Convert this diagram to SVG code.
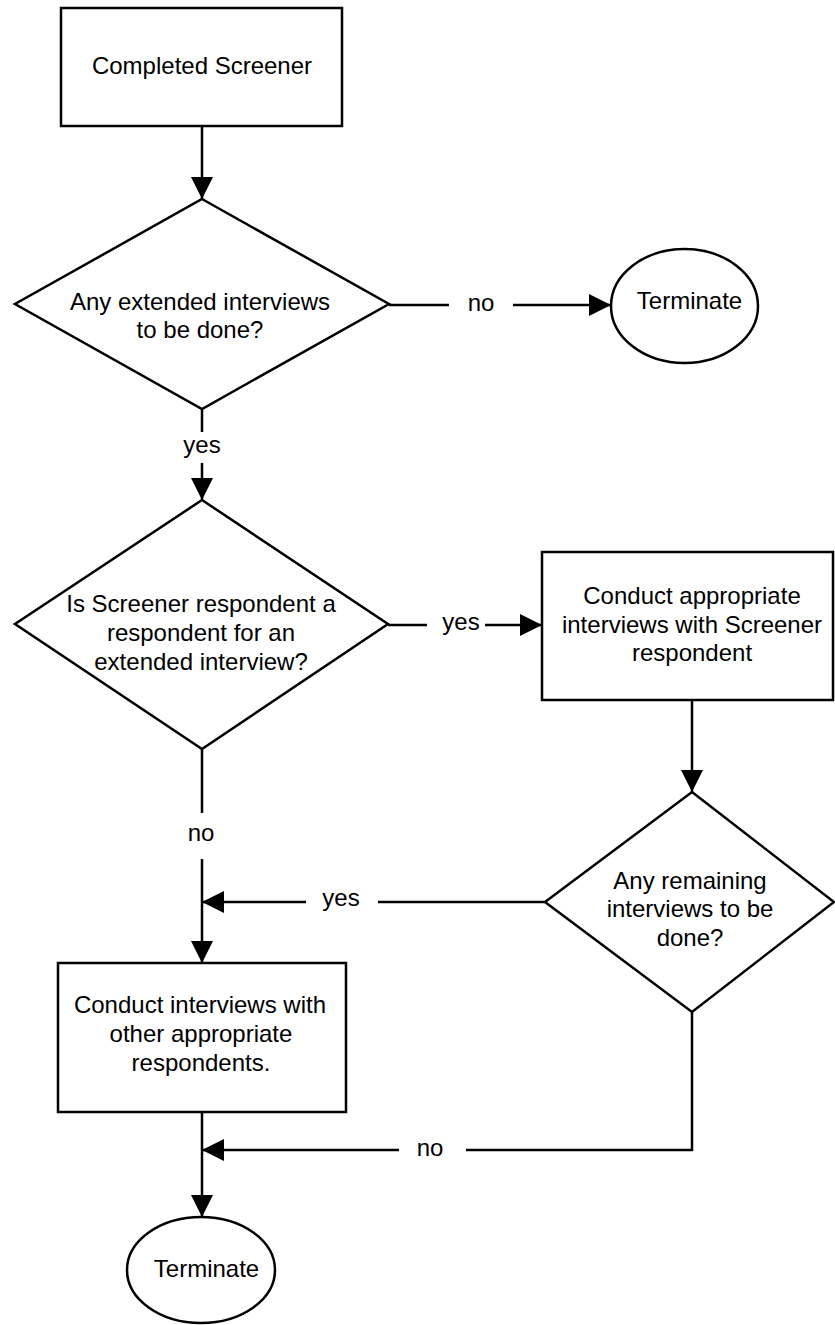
<svg xmlns="http://www.w3.org/2000/svg" width="835" height="1325" viewBox="0 0 835 1325">
<defs>
<marker id="arr" markerUnits="userSpaceOnUse" markerWidth="22" markerHeight="22" refX="22" refY="11" orient="auto">
<path d="M0,0 L22,11 L0,22 z" fill="#000"/>
</marker>
</defs>
<style>
.shape{fill:#fff;stroke:#000;stroke-width:2.5}
.ln{fill:none;stroke:#000;stroke-width:2.5}
text{font-family:"Liberation Sans",Arial,sans-serif;font-size:24px;fill:#000;text-anchor:middle}
</style>
<rect width="835" height="1325" fill="#fff"/>
<g id="connectors">
<line class="ln" x1="202" y1="126" x2="202" y2="199" marker-end="url(#arr)"/>
<line class="ln" x1="389" y1="305" x2="449" y2="305"/>
<text x="481" y="311">no</text>
<line class="ln" x1="513" y1="305" x2="611" y2="305" marker-end="url(#arr)"/>
<line class="ln" x1="202" y1="409" x2="202" y2="432"/>
<text x="202" y="453">yes</text>
<line class="ln" x1="202" y1="463" x2="202" y2="500" marker-end="url(#arr)"/>
<line class="ln" x1="388" y1="625" x2="427" y2="625"/>
<text x="461" y="630">yes</text>
<line class="ln" x1="485" y1="625" x2="542" y2="625" marker-end="url(#arr)"/>
<line class="ln" x1="692" y1="700" x2="692" y2="792" marker-end="url(#arr)"/>
<line class="ln" x1="202" y1="749" x2="202" y2="813"/>
<text x="201" y="841">no</text>
<line class="ln" x1="202" y1="859" x2="202" y2="963" marker-end="url(#arr)"/>
<line class="ln" x1="545" y1="902" x2="378" y2="902"/>
<text x="341" y="906">yes</text>
<line class="ln" x1="306" y1="902" x2="202" y2="902" marker-end="url(#arr)"/>
<line class="ln" x1="202" y1="1112" x2="202" y2="1217" marker-end="url(#arr)"/>
<polyline class="ln" points="692,1012 692,1150 466,1150"/>
<text x="430" y="1156">no</text>
<line class="ln" x1="399" y1="1150" x2="202" y2="1150" marker-end="url(#arr)"/>
</g>
<g id="completed-screener">
<rect class="shape" x="61" y="8" width="281" height="118"/>
<text x="202" y="74">Completed Screener</text>
</g>
<g id="any-extended">
<polygon class="shape" points="202,199 389,304 202,409 15,304"/>
<text x="200" y="310">Any extended interviews</text>
<text x="200" y="338">to be done?</text>
</g>
<g id="terminate-1">
<ellipse class="shape" cx="684.5" cy="306" rx="73.5" ry="57"/>
<text x="689.5" y="309">Terminate</text>
</g>
<g id="is-screener">
<polygon class="shape" points="202,500 388,624 202,749 15,624"/>
<text x="201" y="612">Is Screener respondent a</text>
<text x="201" y="641">respondent for an</text>
<text x="201" y="670">extended interview?</text>
</g>
<g id="conduct-appropriate">
<rect class="shape" x="542" y="552" width="291" height="148"/>
<text x="692" y="604">Conduct appropriate</text>
<text x="692" y="633">interviews with Screener</text>
<text x="692" y="661">respondent</text>
</g>
<g id="any-remaining">
<polygon class="shape" points="692,792 834,902 692,1012 545,902"/>
<text x="690" y="889">Any remaining</text>
<text x="690" y="917">interviews to be</text>
<text x="690" y="946">done?</text>
</g>
<g id="conduct-other">
<rect class="shape" x="58" y="963" width="288" height="149"/>
<text x="200" y="1013">Conduct interviews with</text>
<text x="201" y="1042">other appropriate</text>
<text x="201" y="1071">respondents.</text>
</g>
<g id="terminate-2">
<ellipse class="shape" cx="201" cy="1270" rx="74" ry="53"/>
<text x="206.5" y="1277">Terminate</text>
</g>
</svg>
